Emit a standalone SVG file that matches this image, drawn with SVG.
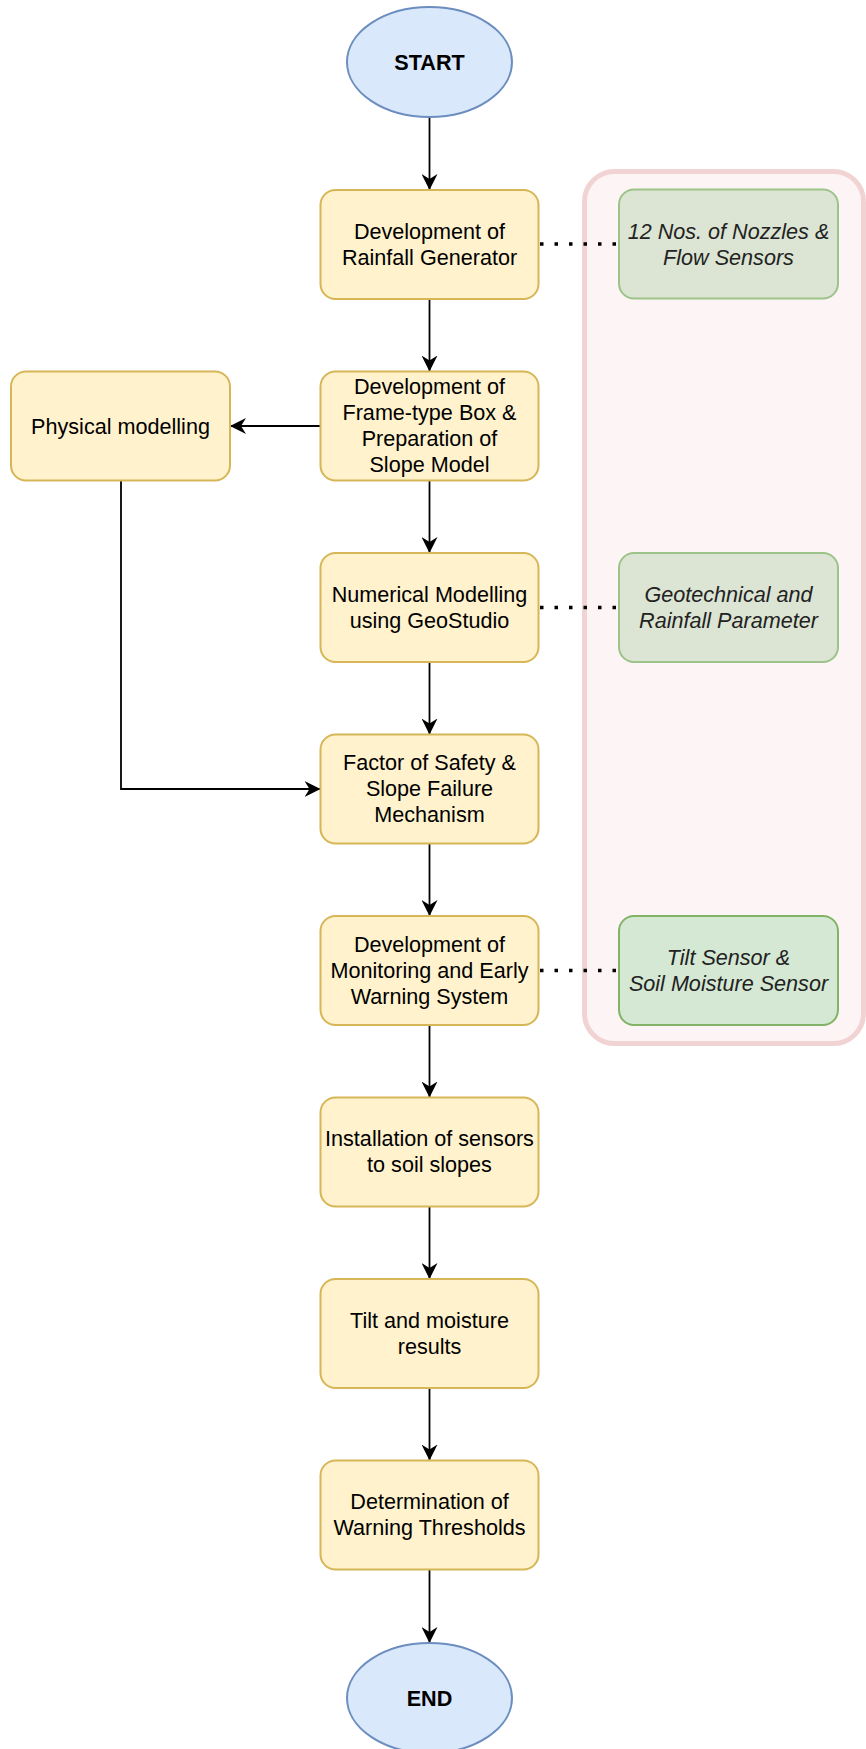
<svg xmlns="http://www.w3.org/2000/svg" width="866" height="1749" viewBox="0 0 866 1749">
<defs>
<marker id="arr" markerUnits="userSpaceOnUse" markerWidth="18" markerHeight="16" viewBox="0 0 18 16" refX="16" refY="8" orient="auto">
<path d="M0,0 L16,8 L0,16 L5,8 Z" fill="#000"/>
</marker>
</defs>
<style>
text{font-family:"Liberation Sans",Arial,sans-serif;font-size:21.6px;text-anchor:middle;fill:#000}
.y{fill:#fff2cc;stroke:#d6b656;stroke-width:2}
.b{fill:#dae8fc;stroke:#6c8ebf;stroke-width:2}
.g1{fill:#dce5d3;stroke:#9cc389;stroke-width:2}
.g2{fill:#d5e8d4;stroke:#82b366;stroke-width:2}
.it{font-style:italic;fill:#222}
.bold{font-weight:bold}
.e{fill:none;stroke:#000;stroke-width:1.8;marker-end:url(#arr)}
.dot{fill:none;stroke:#000;stroke-width:3.5;stroke-dasharray:3.5 11}
</style>
<g id="container">
<rect x="584.5" y="171.5" width="279" height="872" rx="30" ry="30" fill="#fdf5f5" stroke="#f2d3d3" stroke-width="5"/>
</g>
<g id="connectors">
<line class="e" x1="429.5" y1="117" x2="429.5" y2="190"/>
<line class="e" x1="429.5" y1="299" x2="429.5" y2="371.5"/>
<line class="e" x1="320.5" y1="426" x2="230" y2="426"/>
<line class="e" x1="429.5" y1="480.5" x2="429.5" y2="553"/>
<line class="e" x1="429.5" y1="662" x2="429.5" y2="734.5"/>
<polyline class="e" points="121,480 121,789 320.5,789"/>
<line class="e" x1="429.5" y1="843.5" x2="429.5" y2="916"/>
<line class="e" x1="429.5" y1="1025" x2="429.5" y2="1097.5"/>
<line class="e" x1="429.5" y1="1206.5" x2="429.5" y2="1279"/>
<line class="e" x1="429.5" y1="1388" x2="429.5" y2="1460.5"/>
<line class="e" x1="429.5" y1="1569.5" x2="429.5" y2="1643"/>
<line class="dot" x1="540" y1="244" x2="619" y2="244"/>
<line class="dot" x1="540" y1="607.5" x2="619" y2="607.5"/>
<line class="dot" x1="540" y1="970.5" x2="619" y2="970.5"/>
</g>
<g id="start">
<ellipse class="b" cx="429.5" cy="62" rx="82.5" ry="55"/>
<text class="bold" x="429.5" y="69.5">START</text>
</g>
<g id="n1">
<rect class="y" x="320.5" y="190" width="218" height="109" rx="15"/>
<text x="429.5" y="238.5">Development of</text>
<text x="429.5" y="264.5">Rainfall Generator</text>
</g>
<g id="n2">
<rect class="y" x="320.5" y="371.5" width="218" height="109" rx="15"/>
<text x="429.5" y="394">Development of</text>
<text x="429.5" y="420">Frame-type Box &amp;</text>
<text x="429.5" y="446">Preparation of</text>
<text x="429.5" y="472">Slope Model</text>
</g>
<g id="phys">
<rect class="y" x="11" y="371.5" width="219" height="109" rx="15"/>
<text x="120.5" y="433.5">Physical modelling</text>
</g>
<g id="n3">
<rect class="y" x="320.5" y="553" width="218" height="109" rx="15"/>
<text x="429.5" y="601.5">Numerical Modelling</text>
<text x="429.5" y="627.5">using GeoStudio</text>
</g>
<g id="n4">
<rect class="y" x="320.5" y="734.5" width="218" height="109" rx="15"/>
<text x="429.5" y="770">Factor of Safety &amp;</text>
<text x="429.5" y="796">Slope Failure</text>
<text x="429.5" y="822">Mechanism</text>
</g>
<g id="n5">
<rect class="y" x="320.5" y="916" width="218" height="109" rx="15"/>
<text x="429.5" y="951.5">Development of</text>
<text x="429.5" y="977.5">Monitoring and Early</text>
<text x="429.5" y="1003.5">Warning System</text>
</g>
<g id="n6">
<rect class="y" x="320.5" y="1097.5" width="218" height="109" rx="15"/>
<text x="429.5" y="1146">Installation of sensors</text>
<text x="429.5" y="1172">to soil slopes</text>
</g>
<g id="n7">
<rect class="y" x="320.5" y="1279" width="218" height="109" rx="15"/>
<text x="429.5" y="1327.5">Tilt and moisture</text>
<text x="429.5" y="1353.5">results</text>
</g>
<g id="n8">
<rect class="y" x="320.5" y="1460.5" width="218" height="109" rx="15"/>
<text x="429.5" y="1509">Determination of</text>
<text x="429.5" y="1535">Warning Thresholds</text>
</g>
<g id="end">
<ellipse class="b" cx="429.5" cy="1698" rx="82.5" ry="55"/>
<text class="bold" x="429.5" y="1705.5">END</text>
</g>
<g id="s1">
<rect class="g1" x="619" y="189.5" width="219" height="109" rx="15"/>
<text class="it" x="728.5" y="238.5">12 Nos. of Nozzles &amp;</text>
<text class="it" x="728.5" y="264.5">Flow Sensors</text>
</g>
<g id="s2">
<rect class="g1" x="619" y="553" width="219" height="109" rx="15"/>
<text class="it" x="728.5" y="601.5">Geotechnical and</text>
<text class="it" x="728.5" y="627.5">Rainfall Parameter</text>
</g>
<g id="s3">
<rect class="g2" x="619" y="916" width="219" height="109" rx="15"/>
<text class="it" x="728.5" y="964.5">Tilt Sensor &amp;</text>
<text class="it" x="728.5" y="990.5">Soil Moisture Sensor</text>
</g>
</svg>
